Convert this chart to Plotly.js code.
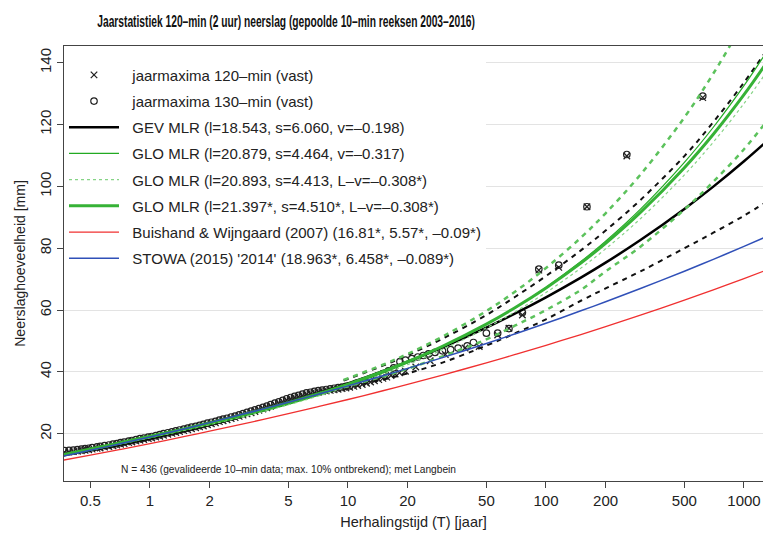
<!DOCTYPE html>
<html>
<head>
<meta charset="utf-8">
<script src="https://cdn.plot.ly/plotly-3.0.1.min.js"></script>
<style>
html,body{margin:0;padding:0;background:#fff;}
#chart{width:763px;height:539px;}
</style>
</head>
<body>
<div id="chart"></div>
<script>
// ---- data ----
var xTicks = [0.5, 1, 2, 5, 10, 20, 50, 100, 200, 500, 1000];
var yTicks = [20, 40, 60, 80, 100, 120, 140];

// return periods used for the fitted curves
var Tcurve = [0.35, 0.5, 0.7, 1, 1.5, 2, 3, 5, 7, 10, 15, 20, 30, 50, 70, 100, 150, 200, 300, 500, 700, 1000, 1300];
var gev      = [12.80, 14.62, 16.46, 18.54, 21.10, 23.05, 25.98, 30.03, 32.93, 36.22, 40.26, 43.32, 47.95, 54.34, 58.92, 64.11, 70.48, 75.32, 82.63, 92.70, 99.91, 108.11, 114.52];
var gloThin  = [12.60, 14.62, 16.56, 18.66, 21.12, 22.95, 25.69, 29.51, 32.30, 35.55, 39.67, 42.91, 47.97, 55.31, 60.82, 67.33, 75.67, 82.27, 92.63, 107.76, 119.12, 132.57, 143.49];
var gloDash  = [12.62, 14.66, 16.61, 18.69, 21.13, 22.94, 25.63, 29.36, 32.08, 35.23, 39.22, 42.33, 47.20, 54.22, 59.47, 65.66, 73.55, 79.78, 89.54, 103.70, 114.31, 126.82, 136.95];
var gloThick = [12.94, 15.02, 17.02, 19.15, 21.64, 23.49, 26.24, 30.05, 32.83, 36.05, 40.13, 43.31, 48.28, 55.46, 60.83, 67.15, 75.21, 81.57, 91.56, 106.03, 116.86, 129.66, 140.01];
var buishand = [11.23, 13.07, 14.85, 16.81, 19.11, 20.80, 23.24, 26.46, 28.66, 31.06, 33.89, 35.97, 38.97, 42.93, 45.64, 48.60, 52.07, 54.62, 58.33, 63.20, 66.52, 70.17, 72.92];
var stowa    = [12.49, 14.63, 16.70, 18.96, 21.63, 23.58, 26.42, 30.14, 32.69, 35.46, 38.74, 41.13, 44.61, 49.19, 52.31, 55.72, 59.74, 62.68, 66.96, 72.56, 76.40, 80.60, 83.77];

// confidence bands (dashed)
var Tband = [9.5, 15, 20, 30, 50, 70, 100, 150, 200, 300, 500, 700, 1000, 1300];
var bandGreenUp  = [37.4, 42.3, 45.8, 51.4, 59.7, 66.0, 73.6, 83.4, 91.3, 103.8, 122.3, 136.5, 153.4, 167.3];
var bandGreenLow = [35.0, 38.5, 41.0, 45.0, 50.5, 55.0, 60.0, 66.5, 72.5, 80.5, 92.5, 101.5, 112.0, 121.0];
var bandBlackUp  = [37.2, 42.0, 45.4, 50.7, 58.4, 64.3, 71.0, 79.3, 85.7, 95.6, 109.8, 120.8, 133.6, 144.0];
var bandBlackLow = [35.2, 37.5, 39.5, 43.0, 48.5, 52.5, 57.0, 63.0, 67.0, 72.5, 80.0, 85.0, 90.5, 95.0];

// annual maxima 120-min (x)
var T120 = [0.37,0.39,0.41,0.43,0.45,0.47,0.49,0.51,0.54,0.56,0.59,0.62,0.65,0.68,0.71,0.74,0.78,0.81,0.85,0.89,0.93,0.98,1.02,1.07,1.12,1.17,1.23,1.29,1.35,1.41,1.48,1.55,1.62,1.70,1.78,1.86,1.95,2.04,2.14,2.24,2.34,2.45,2.57,2.69,2.82,2.95,3.09,3.24,3.39,3.55,3.72,3.89,4.07,4.27,4.47,4.68,4.90,5.13,5.37,5.62,5.89,6.17,6.46,6.76,7.08,7.41,7.76,8.13,8.51,8.91,9.33,9.77,
            10.2,10.7,11.2,11.8,12.4,13.0,13.6,14.3,15.0,15.7,16.5,17.3,18.2,19.5,22,26,31,39,46,57,65,76,92,116,161,256,619];
var P120 = [14.0,14.1,14.2,14.35,14.5,14.65,14.8,15.0,15.25,15.4,15.65,15.85,16.1,16.3,16.6,16.8,17.1,17.3,17.6,17.9,18.1,18.4,18.6,18.9,19.2,19.5,19.8,20.1,20.4,20.7,21.0,21.3,21.6,21.9,22.2,22.5,22.9,23.2,23.5,23.9,24.2,24.5,24.9,25.2,25.6,26.0,26.4,26.8,27.2,27.6,28.0,28.4,28.9,29.4,29.8,30.3,30.8,31.2,31.6,31.9,32.3,32.7,32.9,33.2,33.4,33.6,33.8,34.0,34.2,34.4,34.6,34.8,
            35.0,35.3,35.6,35.9,36.3,36.7,37.1,37.5,37.9,38.3,38.8,39.3,39.7,40.2,41.6,43.6,45.6,47.7,48.2,51.9,54.1,58.4,72.9,73.8,93.4,109.8,128.7];

// annual maxima 130-min (o)
var T130 = [0.37,0.39,0.41,0.43,0.45,0.47,0.49,0.51,0.54,0.56,0.59,0.62,0.65,0.68,0.71,0.74,0.78,0.81,0.85,0.89,0.93,0.98,1.02,1.07,1.12,1.17,1.23,1.29,1.35,1.41,1.48,1.55,1.62,1.70,1.78,1.86,1.95,2.04,2.14,2.24,2.34,2.45,2.57,2.69,2.82,2.95,3.09,3.24,3.39,3.55,3.72,3.89,4.07,4.27,4.47,4.68,4.90,5.13,5.37,5.62,5.89,6.17,6.46,6.76,7.08,7.41,7.76,8.13,8.51,8.91,9.33,9.77,
            10.2,11,12,13,14,15,16,17,18.3,19.5,21,22.5,24,25.5,27.5,30,33,36,40,43,50,57,65,76,92,116,161,256,619];
var P130 = [14.5,14.6,14.7,14.85,15.0,15.15,15.3,15.5,15.75,15.9,16.15,16.35,16.6,16.8,17.1,17.3,17.6,17.8,18.1,18.4,18.6,18.9,19.1,19.4,19.7,20.0,20.3,20.6,20.9,21.2,21.5,21.8,22.1,22.4,22.7,23.0,23.4,23.7,24.0,24.4,24.7,25.0,25.4,25.7,26.1,26.5,26.9,27.3,27.7,28.1,28.5,28.9,29.4,29.9,30.3,30.8,31.3,31.7,32.1,32.4,32.8,33.2,33.4,33.7,33.9,34.1,34.3,34.5,34.7,34.9,35.1,35.3,
            35.5,36.3,37.0,37.8,38.6,39.4,40.3,41.3,43.3,43.8,44.3,44.8,45.3,45.8,46.3,46.8,47.2,47.7,48.4,49.5,52.5,52.5,54.0,59.2,73.2,74.5,93.4,110.3,129.2];

var pad = '\u00a0\u00a0';
var names = [
  "jaarmaxima 120\u2013min (vast)",
  "jaarmaxima 130\u2013min (vast)",
  "GEV MLR (l=18.543, s=6.060, v=\u20130.198)",
  "GLO MLR (l=20.879, s=4.464, v=\u20130.317)",
  "GLO MLR (l=20.893, s=4.413, L\u2013v=\u20130.308*)",
  "GLO MLR (l=21.397*, s=4.510*, L\u2013v=\u20130.308*)",
  "Buishand & Wijngaard (2007) (16.81*, 5.57*, \u20130.09*)",
  "STOWA (2015) '2014' (18.963*, 6.458*, \u20130.089*)"
];

var cGreen = '#36b236', cGreenBand = '#5cc25c', cGreenLight = '#86d486';

var traces = [
  {x:T120, y:P120, mode:'markers', type:'scatter', name:pad+names[0], legendgroup:'a', legendrank:1,
   marker:{symbol:'x-thin-open', size:6.5, color:'#222', line:{width:1.3, color:'#222'}}},
  {x:T130, y:P130, mode:'markers', type:'scatter', name:pad+names[1], legendgroup:'b', legendrank:2,
   marker:{symbol:'circle-open', size:6.5, color:'#222', line:{width:1.2, color:'#222'}}},
  {x:Tcurve, y:gev, mode:'lines', name:pad+names[2], legendgroup:'c', legendrank:3,
   line:{color:'#000', width:2.5, shape:'spline'}},
  {x:Tband, y:bandBlackUp, mode:'lines', showlegend:false, line:{color:'#111', width:2, dash:'5px,5px', shape:'spline'}},
  {x:Tband, y:bandBlackLow, mode:'lines', showlegend:false, line:{color:'#111', width:2, dash:'5px,5px', shape:'spline'}},
  {x:Tcurve, y:gloThin, mode:'lines', name:pad+names[3], legendgroup:'d', legendrank:4,
   line:{color:'#22aa22', width:1.2, shape:'spline'}},
  {x:Tcurve, y:gloDash, mode:'lines', name:pad+names[4], legendgroup:'e', legendrank:5,
   line:{color:cGreenLight, width:1.2, dash:'3px,3px', shape:'spline'}},
  {x:Tcurve, y:gloThick, mode:'lines', name:pad+names[5], legendgroup:'f', legendrank:6,
   line:{color:cGreen, width:3, shape:'spline'}},
  {x:Tband, y:bandGreenUp, mode:'lines', showlegend:false, line:{color:cGreenBand, width:2.5, dash:'5px,5px', shape:'spline'}},
  {x:Tband, y:bandGreenLow, mode:'lines', showlegend:false, line:{color:cGreenBand, width:2.5, dash:'5px,5px', shape:'spline'}},
  {x:Tcurve, y:buishand, mode:'lines', name:pad+names[6], legendgroup:'g', legendrank:7,
   line:{color:'#f03030', width:1.3, shape:'spline'}},
  {x:Tcurve, y:stowa, mode:'lines', name:pad+names[7], legendgroup:'h', legendrank:8,
   line:{color:'#3050b8', width:1.5, shape:'spline'}}
];

var font = 'Liberation Sans, Arial, Helvetica, sans-serif';
var layout = {
  width:763, height:539,
  margin:{l:64, r:0, t:46, b:58},
  paper_bgcolor:'#fff', plot_bgcolor:'#fff',
  font:{family:font, color:'#222', size:15},
  title:{text:'<b>Jaarstatistiek 120\u2013min (2 uur) neerslag (gepoolde 10\u2013min reeksen 2003\u20132016)</b>',
         font:{family:font, size:16, color:'#111'},
         xref:'container', x:0.375, xanchor:'center', yref:'container', y:0.961, yanchor:'middle'},
  xaxis:{type:'log', range:[-0.4343, 3.096], tickvals:xTicks, ticktext:xTicks.map(String),
         ticks:'outside', ticklen:6, tickcolor:'#444', showgrid:false, zeroline:false,
         showline:true, linecolor:'#444', linewidth:1.2, mirror:true,
         tickfont:{size:15, color:'#222'},
         title:{text:'Herhalingstijd (T) [jaar]', font:{size:14.5, color:'#222'}, standoff:8}},
  yaxis:{range:[4.7, 145.4], tickvals:yTicks, ticktext:yTicks.map(String), tickangle:-90,
         ticks:'outside', ticklen:6, tickcolor:'#444', showgrid:true, gridcolor:'#e3e3e3', gridwidth:1,
         zeroline:false, showline:true, linecolor:'#444', linewidth:1.2, mirror:false,
         tickfont:{size:15, color:'#222'},
         title:{text:'Neerslaghoeveelheid [mm]', font:{size:14, color:'#222'}, standoff:7}},
  legend:{x:0, xanchor:'left', y:0.971, yanchor:'top', bgcolor:'#fff', borderwidth:0,
          font:{size:15, color:'#222'}, itemwidth:50, traceorder:'grouped', tracegroupgap:3.7},
  annotations:[{text:'N = 436 (gevalideerde 10\u2013min data; max. 10% ontbrekend); met Langbein',
                xref:'paper', yref:'paper', x:(119-64)/699, y:(481-469)/435, xanchor:'left', yanchor:'middle',
                showarrow:false, font:{size:10.2, color:'#222'}}]
};

Plotly.newPlot('chart', traces, layout, {staticPlot:true, displayModeBar:false}).then(function(gd){
  // the reference title is set in a condensed face: compress horizontally around its centre
  var t = gd.querySelector('.gtitle');
  if (t) {
    var w = t.getComputedTextLength ? t.getComputedTextLength() : t.getBBox().width;
    var target = 378, cx = 286;
    if (w > 0) {
      var s = target / w;
      t.setAttribute('transform', 'translate(' + cx + ',0) scale(' + s + ',1) translate(' + (-cx) + ',0)');
    }
  }
});
</script>
</body>
</html>
